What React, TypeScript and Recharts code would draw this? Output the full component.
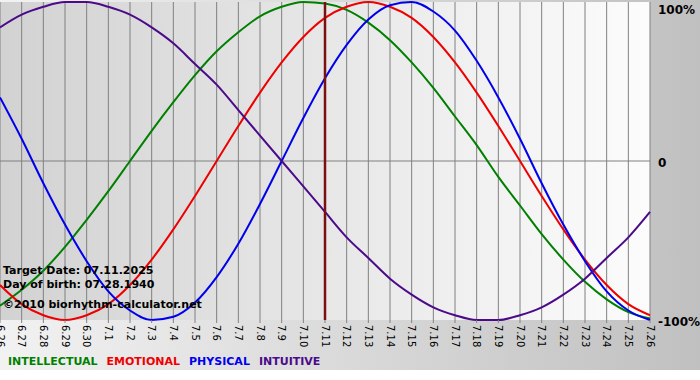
import { LineChart, Line, XAxis, YAxis, CartesianGrid, ReferenceLine } from 'recharts';

const days = [
  '6.26', '6.27', '6.28', '6.29', '6.30', '7.1', '7.2', '7.3', '7.4', '7.5', '7.6',
  '7.7', '7.8', '7.9', '7.10', '7.11', '7.12', '7.13', '7.14', '7.15', '7.16',
  '7.17', '7.18', '7.19', '7.20', '7.21', '7.22', '7.23', '7.24', '7.25', '7.26',
];

const intellectual = [
  -91, -81, -69, -54, -37, -19, 0, 19, 37, 54, 69, 81, 91, 97, 100, 99,
  95, 87, 76, 62, 46, 28, 10, -10, -28, -46, -62, -76, -87, -95, -99,
];

const emotional = [
  -78, -90, -97, -100, -97, -90, -78, -62, -43, -22, 0, 22, 43, 62, 78, 90,
  97, 100, 97, 90, 78, 62, 43, 22, 0, -22, -43, -62, -78, -90, -97,
];

const physical = [
  40, 14, -14, -40, -63, -82, -94, -100, -98, -89, -73, -52, -27, 0, 27, 52,
  73, 89, 98, 100, 94, 82, 63, 40, 14, -14, -40, -63, -82, -94, -100,
];

const intuitive = [
  84, 92, 97, 100, 100, 97, 92, 84, 74, 61, 48, 32, 16, 0, -16, -32,
  -48, -61, -74, -84, -92, -97, -100, -100, -97, -92, -84, -74, -61, -48, -32,
];

const yTicks = [-100, 0, 100];
const targetDay = '7.11';

const series = [
  { key: 'intellectual', name: 'INTELLECTUAL', color: '#008000' },
  { key: 'emotional', name: 'EMOTIONAL', color: '#ee0000' },
  { key: 'physical', name: 'PHYSICAL', color: '#0000ee' },
  { key: 'intuitive', name: 'INTUITIVE', color: '#4b0a8a' },
];

const data = days.map((day, i) => ({
  day,
  intellectual: intellectual[i],
  emotional: emotional[i],
  physical: physical[i],
  intuitive: intuitive[i],
}));

const font = '"DejaVu Sans", Verdana, sans-serif';

const XTick = ({ x, y, payload }: any) => (
  <text
    transform={`translate(${x}, ${y}) rotate(90)`}
    x={0}
    y={0}
    dy="0.35em"
    textAnchor="start"
    fontSize={10}
    fontFamily={font}
    fill="#000"
  >
    {payload.value}
  </text>
);

const YTick = ({ x, y, payload }: any) => (
  <text
    x={x}
    y={y + (payload.value === 100 ? 5 : 6)}
    textAnchor="start"
    fontSize={12}
    fontWeight="bold"
    fontFamily={font}
    fill="#000"
  >
    {payload.value === 0 ? '0' : `${payload.value}%`}
  </text>
);

const infoLines = [
  { text: 'Target Date: 07.11.2025', top: 264 },
  { text: 'Day of birth: 07.28.1940', top: 278 },
  { text: '\u00a92010 biorhythm-calculator.net', top: 298 },
];

export default function App() {
  return (
    <div
      style={{
        position: 'absolute',
        left: 0,
        top: 0,
        width: 700,
        height: 380,
        background: '#fff',
        fontFamily: font,
      }}
    >
      <div
        style={{
          position: 'absolute',
          left: 0,
          top: 0,
          width: 700,
          height: 370,
          background: 'linear-gradient(to right, #f2f2f2, #c0c0c0)',
        }}
      />
      <div
        style={{
          position: 'absolute',
          left: 0,
          top: 2,
          width: 650,
          height: 318,
          background: 'linear-gradient(to right, #d2d2d2, #fcfcfc)',
        }}
      />
      <div style={{ position: 'absolute', left: 0, top: 0 }}>
        <LineChart
          width={700}
          height={380}
          data={data}
          margin={{ top: 2, right: 0, left: 0, bottom: 30 }}
        >
          <CartesianGrid horizontal={false} stroke="#808080" strokeWidth={1} />
          <XAxis
            dataKey="day"
            interval={0}
            height={30}
            axisLine={false}
            tickSize={3}
            tickLine={{ stroke: '#808080', strokeWidth: 1 }}
            tick={<XTick />}
          />
          <YAxis
            orientation="right"
            domain={[-100, 100]}
            ticks={yTicks}
            width={50}
            axisLine={false}
            tickLine={false}
            tick={<YTick />}
          />
          <ReferenceLine y={0} stroke="#808080" strokeWidth={1} />
          {series.map((s) => (
            <Line
              key={s.key}
              type="monotone"
              dataKey={s.key}
              name={s.name}
              stroke={s.color}
              strokeWidth={2}
              dot={false}
              isAnimationActive={false}
            />
          ))}
          <ReferenceLine x={targetDay} stroke="#7a1010" strokeWidth={2.5} />
        </LineChart>
      </div>
      {infoLines.map((l) => (
        <div
          key={l.text}
          style={{
            position: 'absolute',
            left: 3,
            top: l.top,
            fontSize: 11,
            fontWeight: 'bold',
            color: '#000',
            whiteSpace: 'nowrap',
          }}
        >
          {l.text}
        </div>
      ))}
      <div
        style={{
          position: 'absolute',
          left: 8,
          top: 355,
          fontSize: 11,
          fontWeight: 'bold',
          whiteSpace: 'nowrap',
        }}
      >
        {series.map((s) => (
          <span key={s.key} style={{ color: s.color, marginRight: 9 }}>
            {s.name}
          </span>
        ))}
      </div>
    </div>
  );
}
